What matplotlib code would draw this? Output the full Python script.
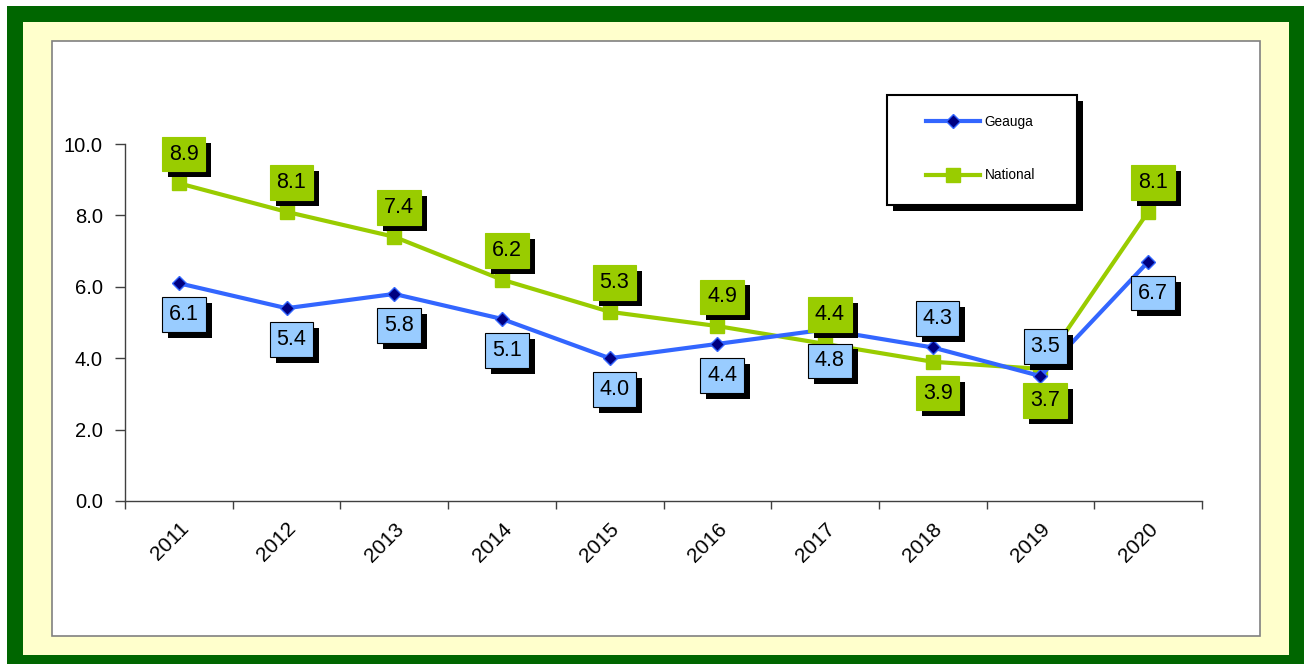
import numpy as np
import matplotlib.pyplot as plt
from matplotlib.patches import Rectangle
from matplotlib.patheffects import withSimplePatchShadow

plt.rcParams['font.family'] = ['Liberation Sans', 'DejaVu Sans']

years = ['2011', '2012', '2013', '2014', '2015', '2016', '2017', '2018', '2019', '2020']
geauga = [6.1, 5.4, 5.8, 5.1, 4.0, 4.4, 4.8, 4.3, 3.5, 6.7]
national = [8.9, 8.1, 7.4, 6.2, 5.3, 4.9, 4.4, 3.9, 3.7, 8.1]

# label placement: +1 above the point, -1 below
geauga_side = [-1, -1, -1, -1, -1, -1, -1, 1, 1, -1]
national_side = [1, 1, 1, 1, 1, 1, 1, -1, -1, 1]

W, H = 1304, 664
fig = plt.figure(figsize=(W / 100, H / 100), dpi=100)
fig.patch.set_facecolor('white')


def px_rect(x0, y0, x1, y1, **kw):
    # rectangle given in image pixels (origin top left)
    r = Rectangle((x0 / W, 1 - y1 / H), (x1 - x0) / W, (y1 - y0) / H,
                  transform=fig.transFigure, **kw)
    fig.add_artist(r)
    return r


px_rect(7, 6, 1310, 670, facecolor='#006600', edgecolor='none', zorder=-10)
px_rect(23, 22, 1289, 655, facecolor='#FFFFCC', edgecolor='none', zorder=-9)
px_rect(52, 41, 1260, 636, facecolor='white', edgecolor='#808080', linewidth=1.2, zorder=-8)

ax = fig.add_axes([125 / W, 1 - 501 / H, (1202 - 125) / W, (501 - 144) / H])
ax.set_facecolor('none')
x = np.arange(len(years))

ax.plot(x, national, color='#99CC00', linewidth=3, marker='s', markersize=10,
        markerfacecolor='#99CC00', markeredgecolor='#99CC00', zorder=3, label='National')
ax.plot(x, geauga, color='#3366FF', linewidth=3, marker='D', markersize=7,
        markerfacecolor='#000080', markeredgecolor='#3366FF', markeredgewidth=1,
        zorder=4, label='Geauga')

shadow = [withSimplePatchShadow(offset=(4.3, -4.3), shadow_rgbFace='black', alpha=1)]


def add_labels(vals, sides, face, edge):
    for xi, v, s in zip(x, vals, sides):
        dy = 21 if s > 0 else -22.5
        t = ax.annotate('%.1f' % v, (xi, v), xytext=(3.5, dy), textcoords='offset points',
                        ha='center', va='center', fontsize=15.5, zorder=6,
                        annotation_clip=False,
                        bbox=dict(boxstyle='square,pad=0.32', facecolor=face,
                                  edgecolor=edge, linewidth=0.8))
        t.get_bbox_patch().set_path_effects(shadow)


add_labels(national, national_side, '#99CC00', '#99CC00')
add_labels(geauga, geauga_side, '#99CCFF', 'black')

ax.set_xlim(-0.5, len(years) - 0.5)
ax.set_ylim(0, 10)
ax.set_yticks(np.arange(0, 10.1, 2))
ax.set_yticklabels(['%.1f' % v for v in np.arange(0, 10.1, 2)])
ax.set_xticks(x)
ax.set_xticklabels(years, rotation=45, ha='right', va='top', rotation_mode='anchor')
ax.set_xticks(np.arange(-0.5, len(years)), minor=True)
ax.tick_params(axis='x', which='major', length=0, pad=13, labelsize=15)
ax.tick_params(axis='x', which='minor', length=6, width=1, color='#404040', direction='out')
ax.tick_params(axis='y', length=7, width=1, color='#404040', pad=9, labelsize=14.5)
for side in ['top', 'right']:
    ax.spines[side].set_visible(False)
for side in ['left', 'bottom']:
    ax.spines[side].set_color('#404040')
    ax.spines[side].set_linewidth(1)

# legend box with shadow
frame = px_rect(887, 95, 1077, 205, facecolor='white', edgecolor='black', linewidth=1.5, zorder=7)
frame.set_path_effects([withSimplePatchShadow(offset=(4.3, -4.3), shadow_rgbFace='black', alpha=1)])
handles, labels = ax.get_legend_handles_labels()
leg = fig.legend(handles[::-1], labels[::-1], loc='upper left',
                 bbox_to_anchor=(926 / W, 1 - 115 / H), frameon=False, fontsize=9.8,
                 handlelength=4.0, handletextpad=0.3, labelspacing=2.9,
                 borderpad=0, borderaxespad=0)
leg.set_zorder(8)

fig.savefig('out.png', dpi=100)
